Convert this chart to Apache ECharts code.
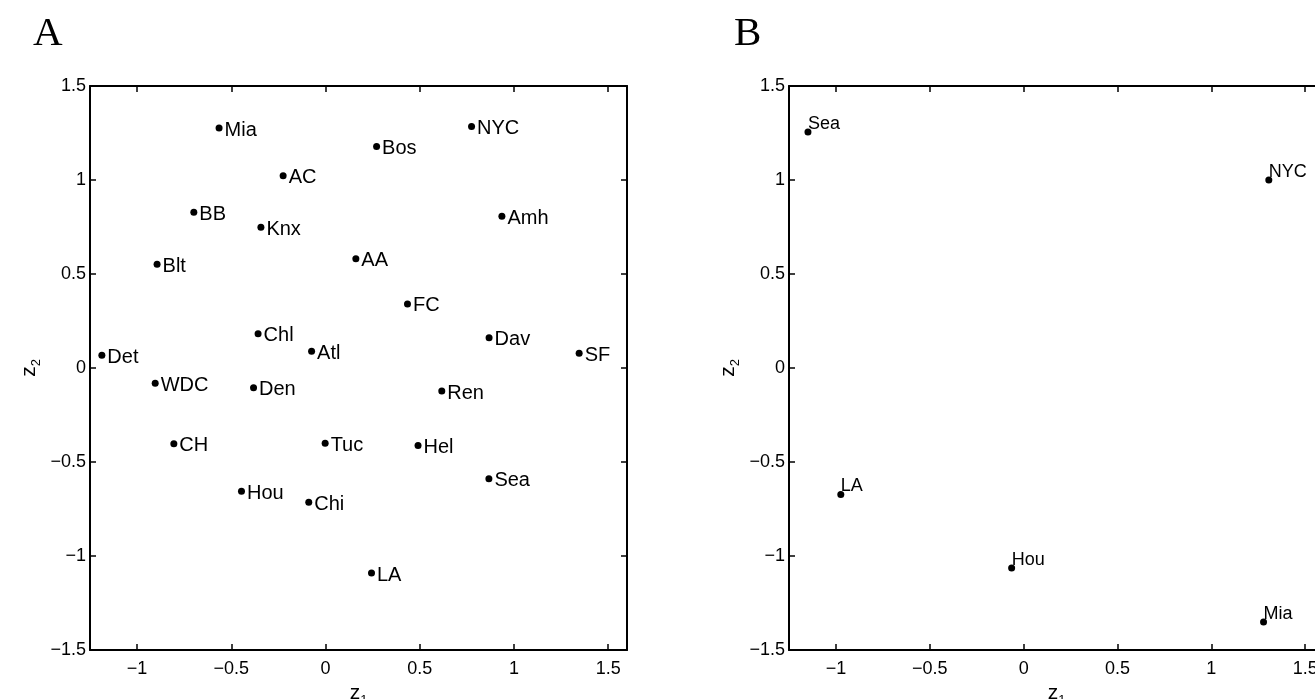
<!DOCTYPE html>
<html>
<head>
<meta charset="utf-8">
<script src="https://cdn.jsdelivr.net/npm/echarts@6/dist/echarts.min.js"></script>
<style>html,body{margin:0;padding:0;background:#fff;}#chart{width:1315px;height:699px;}</style>
</head>
<body>
<div id="chart"></div>
<script>
// Panel A data
const citiesA = ['Mia','NYC','Bos','AC','BB','Amh','Knx','AA','Blt','FC','Chl','Atl','Dav','SF','Det','WDC','Den','Ren','CH','Tuc','Hel','Hou','Chi','Sea','LA'];
const z1A = [-0.565,0.775,0.271,-0.225,-0.699,0.936,-0.343,0.161,-0.894,0.435,-0.358,-0.074,0.868,1.346,-1.187,-0.904,-0.382,0.617,-0.805,-0.002,0.491,-0.446,-0.089,0.867,0.244];
const z2A = [1.276,1.285,1.178,1.022,0.829,0.807,0.749,0.581,0.552,0.341,0.182,0.089,0.161,0.079,0.068,-0.081,-0.105,-0.123,-0.403,-0.400,-0.412,-0.655,-0.714,-0.589,-1.091];
// Panel B data
const citiesB = ['Sea','NYC','LA','Hou','Mia'];
const z1B = [-1.149,1.306,-0.974,-0.064,1.278];
const z2B = [1.255,1.0,-0.673,-1.064,-1.351];
// Tick labels
const xTicks = [-1,-0.5,0,0.5,1,1.5];
const yTicks = [-1.5,-1,-0.5,0,0.5,1,1.5];
const panelTitles = ['A','B'];

const FONT = 'Liberation Sans, Arial, sans-serif';
const fmt = v => String(v).replace('-', '\u2212');
const XMIN = -1.25, XMAX = 1.6, YMIN = -1.5, YMAX = 1.5;

function mkX(grid, pos, labels) {
  return {
    type: 'value', gridIndex: grid, position: pos, min: XMIN, max: XMAX,
    name: labels ? '{z|z}{s|1}' : '', nameLocation: 'middle', nameGap: 26,
    nameTextStyle: { color: '#000', fontFamily: FONT,
      rich: { z: { fontSize: 21, lineHeight: 28, verticalAlign: 'middle', fontFamily: FONT, color:'#000' },
              s: { fontSize: 13, lineHeight: 13, verticalAlign: 'bottom', fontFamily: FONT, color:'#000' } } },
    axisLine: { show: true, onZero: false, lineStyle: { color: '#000', width: 2 } },
    axisTick: { show: true, inside: true, length: 6, customValues: xTicks, lineStyle: { color: '#000', width: 1.5 } },
    axisLabel: { show: labels, customValues: xTicks, formatter: fmt, fontSize: 18, color: '#000', fontFamily: FONT, margin: 10 },
    splitLine: { show: false }
  };
}
function mkY(grid, pos, labels) {
  return {
    type: 'value', gridIndex: grid, position: pos, min: YMIN, max: YMAX, interval: 0.5,
    name: labels ? '{z|z}{s|2}' : '', nameLocation: 'middle', nameGap: 47, nameRotate: 90,
    nameTextStyle: { color: '#000', fontFamily: FONT,
      rich: { z: { fontSize: 21, lineHeight: 28, verticalAlign: 'middle', fontFamily: FONT, color:'#000' },
              s: { fontSize: 13, lineHeight: 13, verticalAlign: 'bottom', fontFamily: FONT, color:'#000' } } },
    axisLine: { show: true, onZero: false, lineStyle: { color: '#000', width: 2 } },
    axisTick: { show: true, inside: true, length: 6, lineStyle: { color: '#000', width: 1.5 } },
    axisLabel: { show: labels, formatter: fmt, fontSize: 18, color: '#000', fontFamily: FONT, margin: 4 },
    splitLine: { show: false }
  };
}

const dataA = citiesA.map((c, i) => ({ name: c, value: [z1A[i], z2A[i]] }));
const dataB = citiesB.map((c, i) => ({ name: c, value: [z1B[i], z2B[i]] }));

const chart = echarts.init(document.getElementById('chart'), null, { renderer: 'canvas' });
chart.setOption({
  backgroundColor: '#fff',
  animation: false,
  title: [
    { text: panelTitles[0], left: 28, top: 9, textStyle: { fontFamily: 'Liberation Serif, Times New Roman, serif', fontSize: 41, fontWeight: 'normal', color: '#000' } },
    { text: panelTitles[1], left: 729, top: 9, textStyle: { fontFamily: 'Liberation Serif, Times New Roman, serif', fontSize: 41, fontWeight: 'normal', color: '#000' } }
  ],
  grid: [
    { left: 90, top: 86, width: 537, height: 564, outerBoundsMode: 'none', containLabel: false },
    { left: 789, top: 86, width: 535, height: 564, outerBoundsMode: 'none', containLabel: false }
  ],
  xAxis: [ mkX(0, 'bottom', true), mkX(0, 'top', false), mkX(1, 'bottom', true), mkX(1, 'top', false) ],
  yAxis: [ mkY(0, 'left', true), mkY(0, 'right', false), mkY(1, 'left', true), mkY(1, 'right', false) ],
  series: [
    {
      type: 'scatter', xAxisIndex: 0, yAxisIndex: 0, data: dataA,
      symbol: 'circle', symbolSize: 7, itemStyle: { color: '#000', opacity: 1 },
      label: { show: true, position: 'right', distance: 2, offset: [0, 2], formatter: '{b}', fontSize: 20, color: '#000', fontFamily: FONT }
    },
    {
      type: 'scatter', xAxisIndex: 2, yAxisIndex: 2, data: dataB,
      symbol: 'circle', symbolSize: 7, itemStyle: { color: '#000', opacity: 1 },
      label: { show: true, position: ['50%', '50%'], align: 'left', verticalAlign: 'bottom', offset: [0, 1], formatter: '{b}', fontSize: 18, color: '#000', fontFamily: FONT }
    }
  ]
});
</script>
</body>
</html>
